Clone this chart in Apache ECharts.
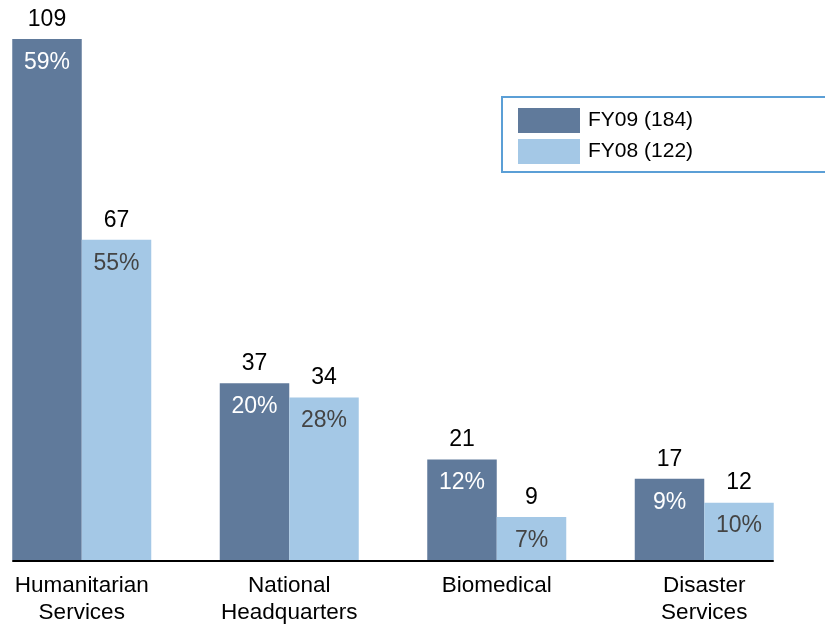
<!DOCTYPE html>
<html>
<head>
<meta charset="utf-8">
<script src="https://cdn.jsdelivr.net/npm/echarts@6/dist/echarts.min.js"></script>
<style>
  html, body { margin: 0; padding: 0; background: #fff; }
  #chart { width: 825px; height: 624px; }
</style>
</head>
<body>
<div id="chart"></div>
<script>
// data
const categories = ["Humanitarian\nServices", "National\nHeadquarters", "Biomedical", "Disaster\nServices"];
const fy09 = [109, 37, 21, 17];
const fy08 = [67, 34, 9, 12];
const share09 = ["59%", "20%", "12%", "9%"];
const share08 = ["55%", "28%", "7%", "10%"];
const seriesNames = ["FY09 (184)", "FY08 (122)"];

const FONT = "Liberation Sans";
const DARK = "#607a9b";
const LIGHT = "#a4c8e6";

// value above the bar, share just inside its top
function barLabel(shares, pctColor) {
  return {
    show: true,
    position: "top",
    distance: 0,
    offset: [0, 45],
    fontFamily: FONT,
    formatter: function (p) {
      return "{v|" + p.value + "}\n{p|" + shares[p.dataIndex] + "}";
    },
    rich: {
      v: { fontFamily: FONT, fontSize: 23, color: "#000", lineHeight: 43 },
      p: { fontFamily: FONT, fontSize: 23, color: pctColor, lineHeight: 43 }
    }
  };
}

const chart = echarts.init(document.getElementById("chart"));

const option = {
  animation: false,
  grid: { left: -22, right: 17, top: 39, bottom: 64, containLabel: false, outerBoundsMode: "none" },
  legend: {
    orient: "vertical",
    left: 502,
    top: 97,
    padding: [11, 140, 8, 16],
    borderColor: "#5b9fd6",
    borderWidth: 2,
    borderRadius: 0,
    itemWidth: 62,
    itemHeight: 25,
    itemGap: 6,
    icon: "rect",
    textStyle: { fontFamily: FONT, fontSize: 21, color: "#000", padding: [0, 0, 0, 3] },
    data: seriesNames
  },
  xAxis: {
    type: "category",
    data: categories,
    axisLine: { show: false },
    axisTick: { show: false },
    axisLabel: {
      fontFamily: FONT,
      fontSize: 22.5,
      color: "#000",
      lineHeight: 27,
      margin: 12
    }
  },
  yAxis: {
    type: "value",
    min: 0,
    max: 109,
    show: false,
    splitLine: { show: false }
  },
  series: [
    {
      name: seriesNames[0],
      type: "bar",
      data: fy09,
      barWidth: 69.5,
      barGap: "0%",
      itemStyle: { color: DARK },
      label: barLabel(share09, "#fff"),
      z: 3
    },
    {
      name: seriesNames[1],
      type: "bar",
      data: fy08,
      barWidth: 69.5,
      barGap: "0%",
      itemStyle: { color: LIGHT },
      label: barLabel(share08, "#444"),
      z: 3
    }
  ]
};

chart.setOption(option);

// baseline runs from the first bar's left edge to the last bar's right edge
const x0 = chart.convertToPixel({ xAxisIndex: 0 }, 0) - 69.5;
const x1 = chart.convertToPixel({ xAxisIndex: 0 }, categories.length - 1) + 69.5;
const y0 = chart.convertToPixel({ yAxisIndex: 0 }, 0);
chart.setOption({
  graphic: [{
    type: "line",
    z: 1,
    shape: { x1: x0, y1: y0 + 1, x2: x1, y2: y0 + 1 },
    style: { stroke: "#000", lineWidth: 2 }
  }]
});
</script>
</body>
</html>
